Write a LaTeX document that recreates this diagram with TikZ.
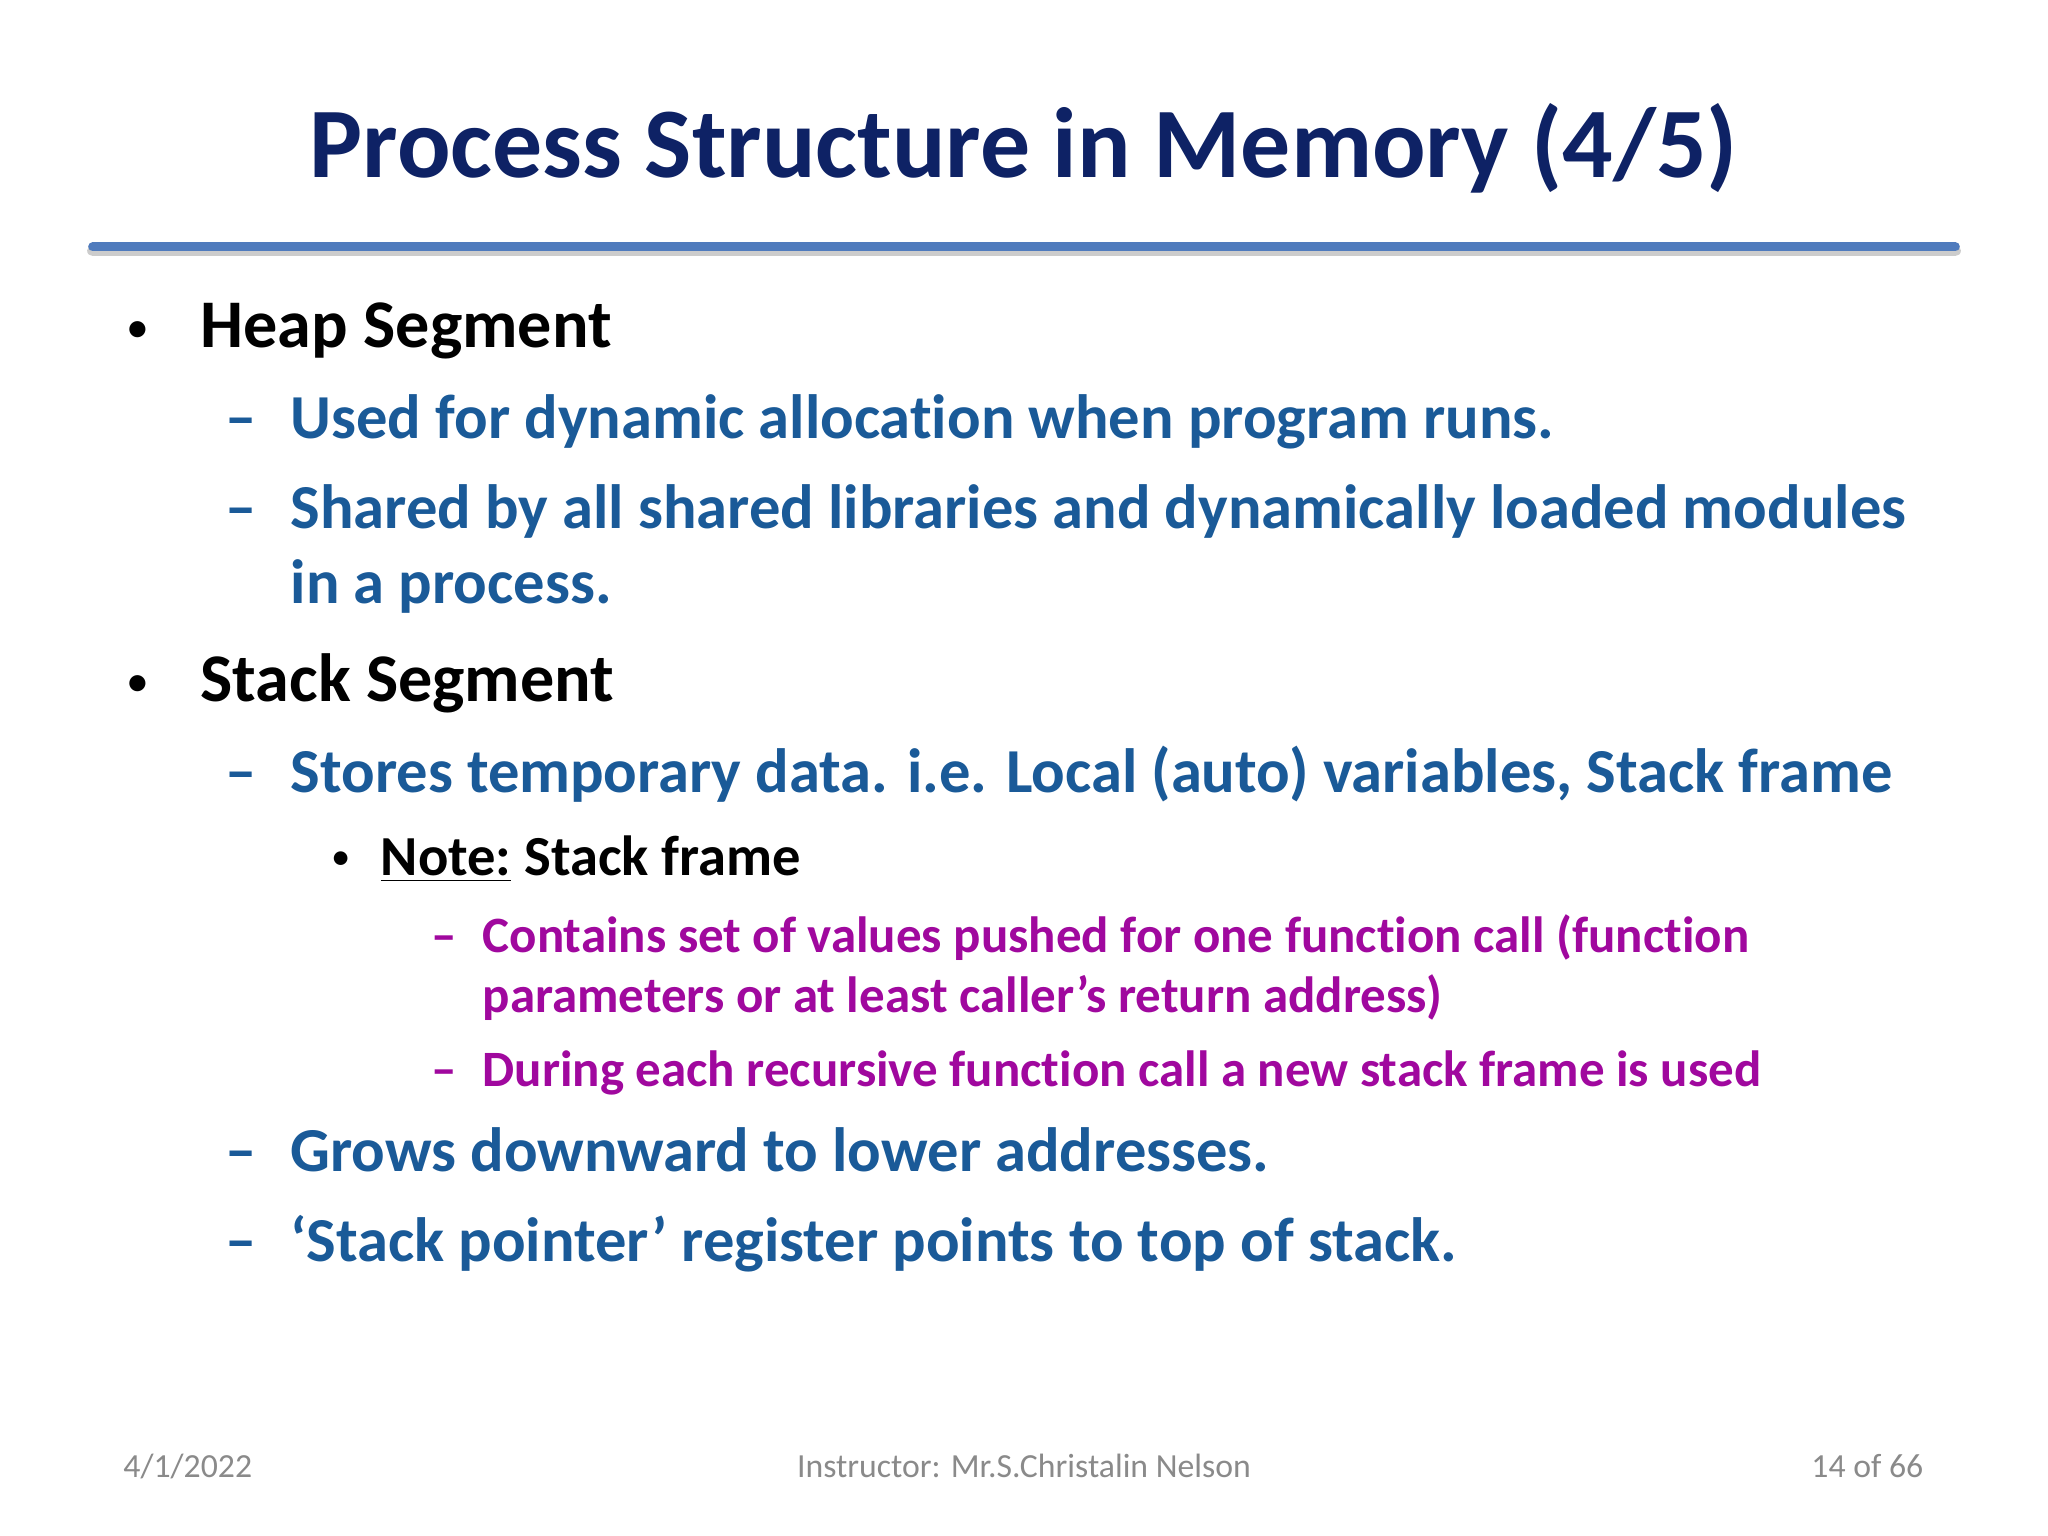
\documentclass[tikz,border=0pt]{standalone}
\usepackage{fontspec}
\setmainfont[Ligatures=NoCommon]{Carlito}
\definecolor{navy}{HTML}{0E2265}
\definecolor{tblue}{HTML}{1A5A98}
\definecolor{mag}{HTML}{A0089E}
\definecolor{rule}{HTML}{4F7BBD}
\definecolor{foot}{HTML}{8A8A8A}
\newcommand{\myul}[1]{\underline{#1}}
\begin{document}
\begin{tikzpicture}[x=0.013061cm,y=-0.013061cm,
  every node/.style={inner sep=0pt,anchor=base west},
  l1/.style={font=\fontsize{19.4}{24}\selectfont\bfseries,text=black},
  l2/.style={font=\fontsize{17.8}{22}\selectfont\bfseries,text=tblue},
  l3/.style={font=\fontsize{16.1}{20}\selectfont\bfseries,text=black},
  l4/.style={font=\fontsize{14.5}{18}\selectfont\bfseries,text=mag},
  bl/.style={font=\fontsize{13}{16}\selectfont,text=black},
  ft/.style={font=\fontsize{9.6}{12}\selectfont,text=foot}]
\fill[white] (0,0) rectangle (1568,1176);
\useasboundingbox (0,0) rectangle (1568,1176);
\node[anchor=base,font=\fontsize{28.4}{34}\selectfont\bfseries,text=navy] (title) at (784,136) {Process Structure in Memory (4/5)};
\draw[line width=3.2pt,gray!40,line cap=round] (71,192) -- (1497,192);
\draw[line width=2.6pt,rule,line cap=round] (71,189) -- (1497,189);
\node[bl] (b1) at (96,262) {•};
\node[l1] (t1) at (153,266) {Heap Segment};
\node[l2] (d1) at (172,336) {–};
\node[l2] (t2) at (222,336) {Used for dynamic allocation when program runs.};
\node[l2] (d2) at (172,405) {–};
\node[l2] (t3) at (222,405) {Shared by all shared libraries and dynamically loaded modules};
\node[l2] (t3b) at (222,462) {in a process.};
\node[bl] (b2) at (96,533) {•};
\node[l1] (t4) at (153,537) {Stack Segment};
\node[l2] (d3) at (172,607) {–};
\node[l2] (t5) at (222,607) {Stores temporary data. i.e. Local (auto) variables, Stack frame};
\node[bl,font=\fontsize{11}{14}\selectfont] (b3) at (253,666) {•};
\node[l3] (t6) at (291,670) {\myul{Note:} Stack frame};
\node[l4] (d4) at (330,729) {–};
\node[l4] (t7) at (369,729) {Contains set of values pushed for one function call (function};
\node[l4] (t7b) at (369,775) {parameters or at least caller’s return address)};
\node[l4] (d5) at (330,832) {–};
\node[l4] (t8) at (369,832) {During each recursive function call a new stack frame is used};
\node[l2] (d6) at (172,897) {–};
\node[l2] (t9) at (222,897) {Grows downward to lower addresses.};
\node[l2] (d7) at (172,966) {–};
\node[l2] (t10) at (222,966) {‘Stack pointer’ register points to top of stack.};
\node[ft] (f1) at (94,1131) {4/1/2022};
\node[ft,anchor=base] (f2) at (784,1131) {Instructor: Mr.S.Christalin Nelson};
\node[ft,anchor=base east] (f3) at (1473,1131) {14 of 66};
\end{tikzpicture}
\end{document}
